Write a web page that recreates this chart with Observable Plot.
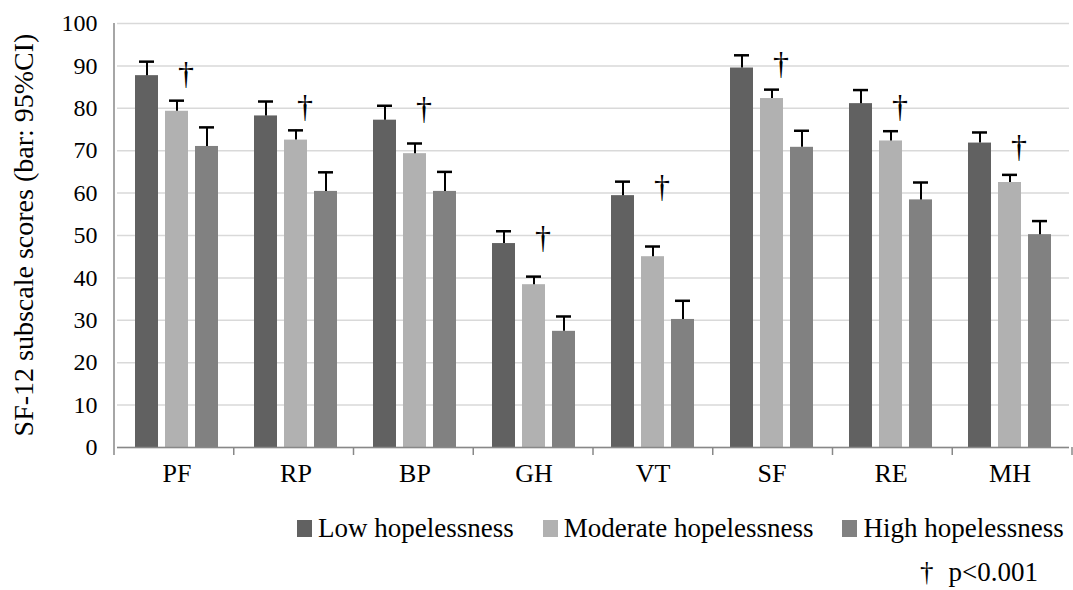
<!DOCTYPE html>
<html><head><meta charset="utf-8">
<script src="https://cdn.jsdelivr.net/npm/d3@7"></script>
<script src="https://cdn.jsdelivr.net/npm/@observablehq/plot@0.6"></script>
<style>
body{margin:0;background:#fff;}
#wrap{position:relative;width:1073px;height:590px;font-family:'Liberation Serif','Times New Roman',serif;color:#000;overflow:hidden;}
#chart{position:absolute;left:0;top:0;}
#legend{position:absolute;left:297px;top:515px;line-height:27px;font-size:27px;white-space:nowrap;}
#legend .item{display:inline-block;margin-right:29px;}
#legend .sw{display:inline-block;width:15px;height:17px;margin-right:6px;vertical-align:baseline;}
#note{position:absolute;left:920px;top:559px;line-height:27px;font-size:27px;white-space:nowrap;}
</style></head>
<body><div id="wrap"><div id="chart"></div><div id="legend"></div><div id="note"></div></div>
<script>
const categories = ["PF","RP","BP","GH","VT","SF","RE","MH"];
const groups = ["Low hopelessness","Moderate hopelessness","High hopelessness"];
const colors = ["#616161","#b1b1b1","#818181"];
const lowMean   = [87.7,78.2,77.2,48.1,59.4,89.5,81.1,71.8];
const lowUpper  = [91.0,81.6,80.6,51.0,62.7,92.5,84.3,74.3];
const modMean   = [79.3,72.5,69.3,38.4,45.0,82.3,72.3,62.5];
const modUpper  = [81.8,74.8,71.7,40.3,47.4,84.4,74.6,64.3];
const highMean  = [71.0,60.4,60.4,27.4,30.2,70.8,58.4,50.2];
const highUpper = [75.5,64.9,65.0,30.9,34.6,74.7,62.5,53.4];
const daggerY   = [88.2,80.3,80.0,49.5,61.6,90.6,80.4,70.9];
const yTicks = [0,10,20,30,40,50,60,70,80,90,100];
const yLabel = "SF-12 subscale scores (bar: 95%CI)";
const noteText = "p<0.001";

const serif = "'Liberation Serif','Times New Roman',serif";
const means = [lowMean, modMean, highMean];
const uppers = [lowUpper, modUpper, highUpper];
const data = categories.flatMap((c, i) => groups.map((g, j) => ({cat: c, group: g, mean: means[j][i], upper: uppers[j][i]})));
const daggers = categories.map((c, i) => ({cat: c, group: groups[1], y: daggerY[i]}));

const plot = Plot.plot({
  width: 1073, height: 500,
  marginLeft: 114, marginRight: 1, marginTop: 23, marginBottom: 53,
  style: {fontFamily: serif, fontSize: "24px"},
  fx: {domain: categories, paddingInner: 0, paddingOuter: 0, axis: null, label: null},
  x: {domain: groups, paddingInner: 0.24, paddingOuter: 0.583, axis: null},
  y: {domain: [0, 100], ticks: yTicks, tickSize: 0, tickPadding: 20, label: null},
  color: {domain: groups, range: colors},
  marks: [
    Plot.ruleY(yTicks, {stroke: "#d9d9d9", strokeWidth: 1.5}),
    Plot.barY(data, {fx: "cat", x: "group", y: "mean", fill: "group"}),
    Plot.ruleX(data, {fx: "cat", x: "group", y1: "mean", y2: "upper", stroke: "#000", strokeWidth: 2}),
    Plot.tickY(data, {fx: "cat", x: "group", y: "upper", stroke: "#000", strokeWidth: 2.5, insetLeft: 4, insetRight: 4}),
    Plot.text(daggers, {fx: "cat", x: "group", y: "y", text: () => "\u2020", dx: 9, fontSize: 32, fill: "#000"}),
    Plot.text(categories, {fx: d => d, text: d => d, frameAnchor: "bottom", dy: 34, fontSize: 26, fill: "#000"}),
    Plot.ruleY([0], {stroke: "#888", strokeWidth: 1.5})
  ]
});
document.getElementById("chart").appendChild(plot);

// axis decorations positioned through the plot's own scales
const svg = d3.select(plot);
const ys = plot.scale("y");
const yScale = d3.scaleLinear().domain(ys.domain).range(ys.range);
const fs = plot.scale("fx");
const fxScale = d3.scaleBand().domain(fs.domain).range(fs.range).paddingInner(0).paddingOuter(0);
const x0 = fs.range[0];
svg.append("line").attr("x1", x0).attr("x2", x0).attr("y1", yScale(100)).attr("y2", yScale(0))
  .attr("stroke", "#888").attr("stroke-width", 1.5);
const bounds = categories.map(c => fxScale(c)).concat([fxScale(categories[categories.length - 1]) + fxScale.bandwidth()]);
svg.append("g").selectAll("line").data(bounds).join("line")
  .attr("x1", d => d).attr("x2", d => d).attr("y1", yScale(0)).attr("y2", yScale(0) + 8)
  .attr("stroke", "#888").attr("stroke-width", 1.5);
svg.append("text").attr("transform", `translate(23.5,${(yScale(0) + yScale(100)) / 2}) rotate(-90)`)
  .attr("text-anchor", "middle").attr("dy", "0.35em").attr("font-size", 28).attr("fill", "#000").text(yLabel);

// legend and footnote below the chart
const legend = d3.select("#legend");
groups.forEach((g, j) => {
  const it = legend.append("span").attr("class", "item");
  it.append("span").attr("class", "sw").style("background", colors[j]);
  it.append("span").text(g);
});
const note = d3.select("#note");
note.append("span").text("\u2020");
note.append("span").style("margin-left", "15px").text(noteText);
</script>
</body></html>
